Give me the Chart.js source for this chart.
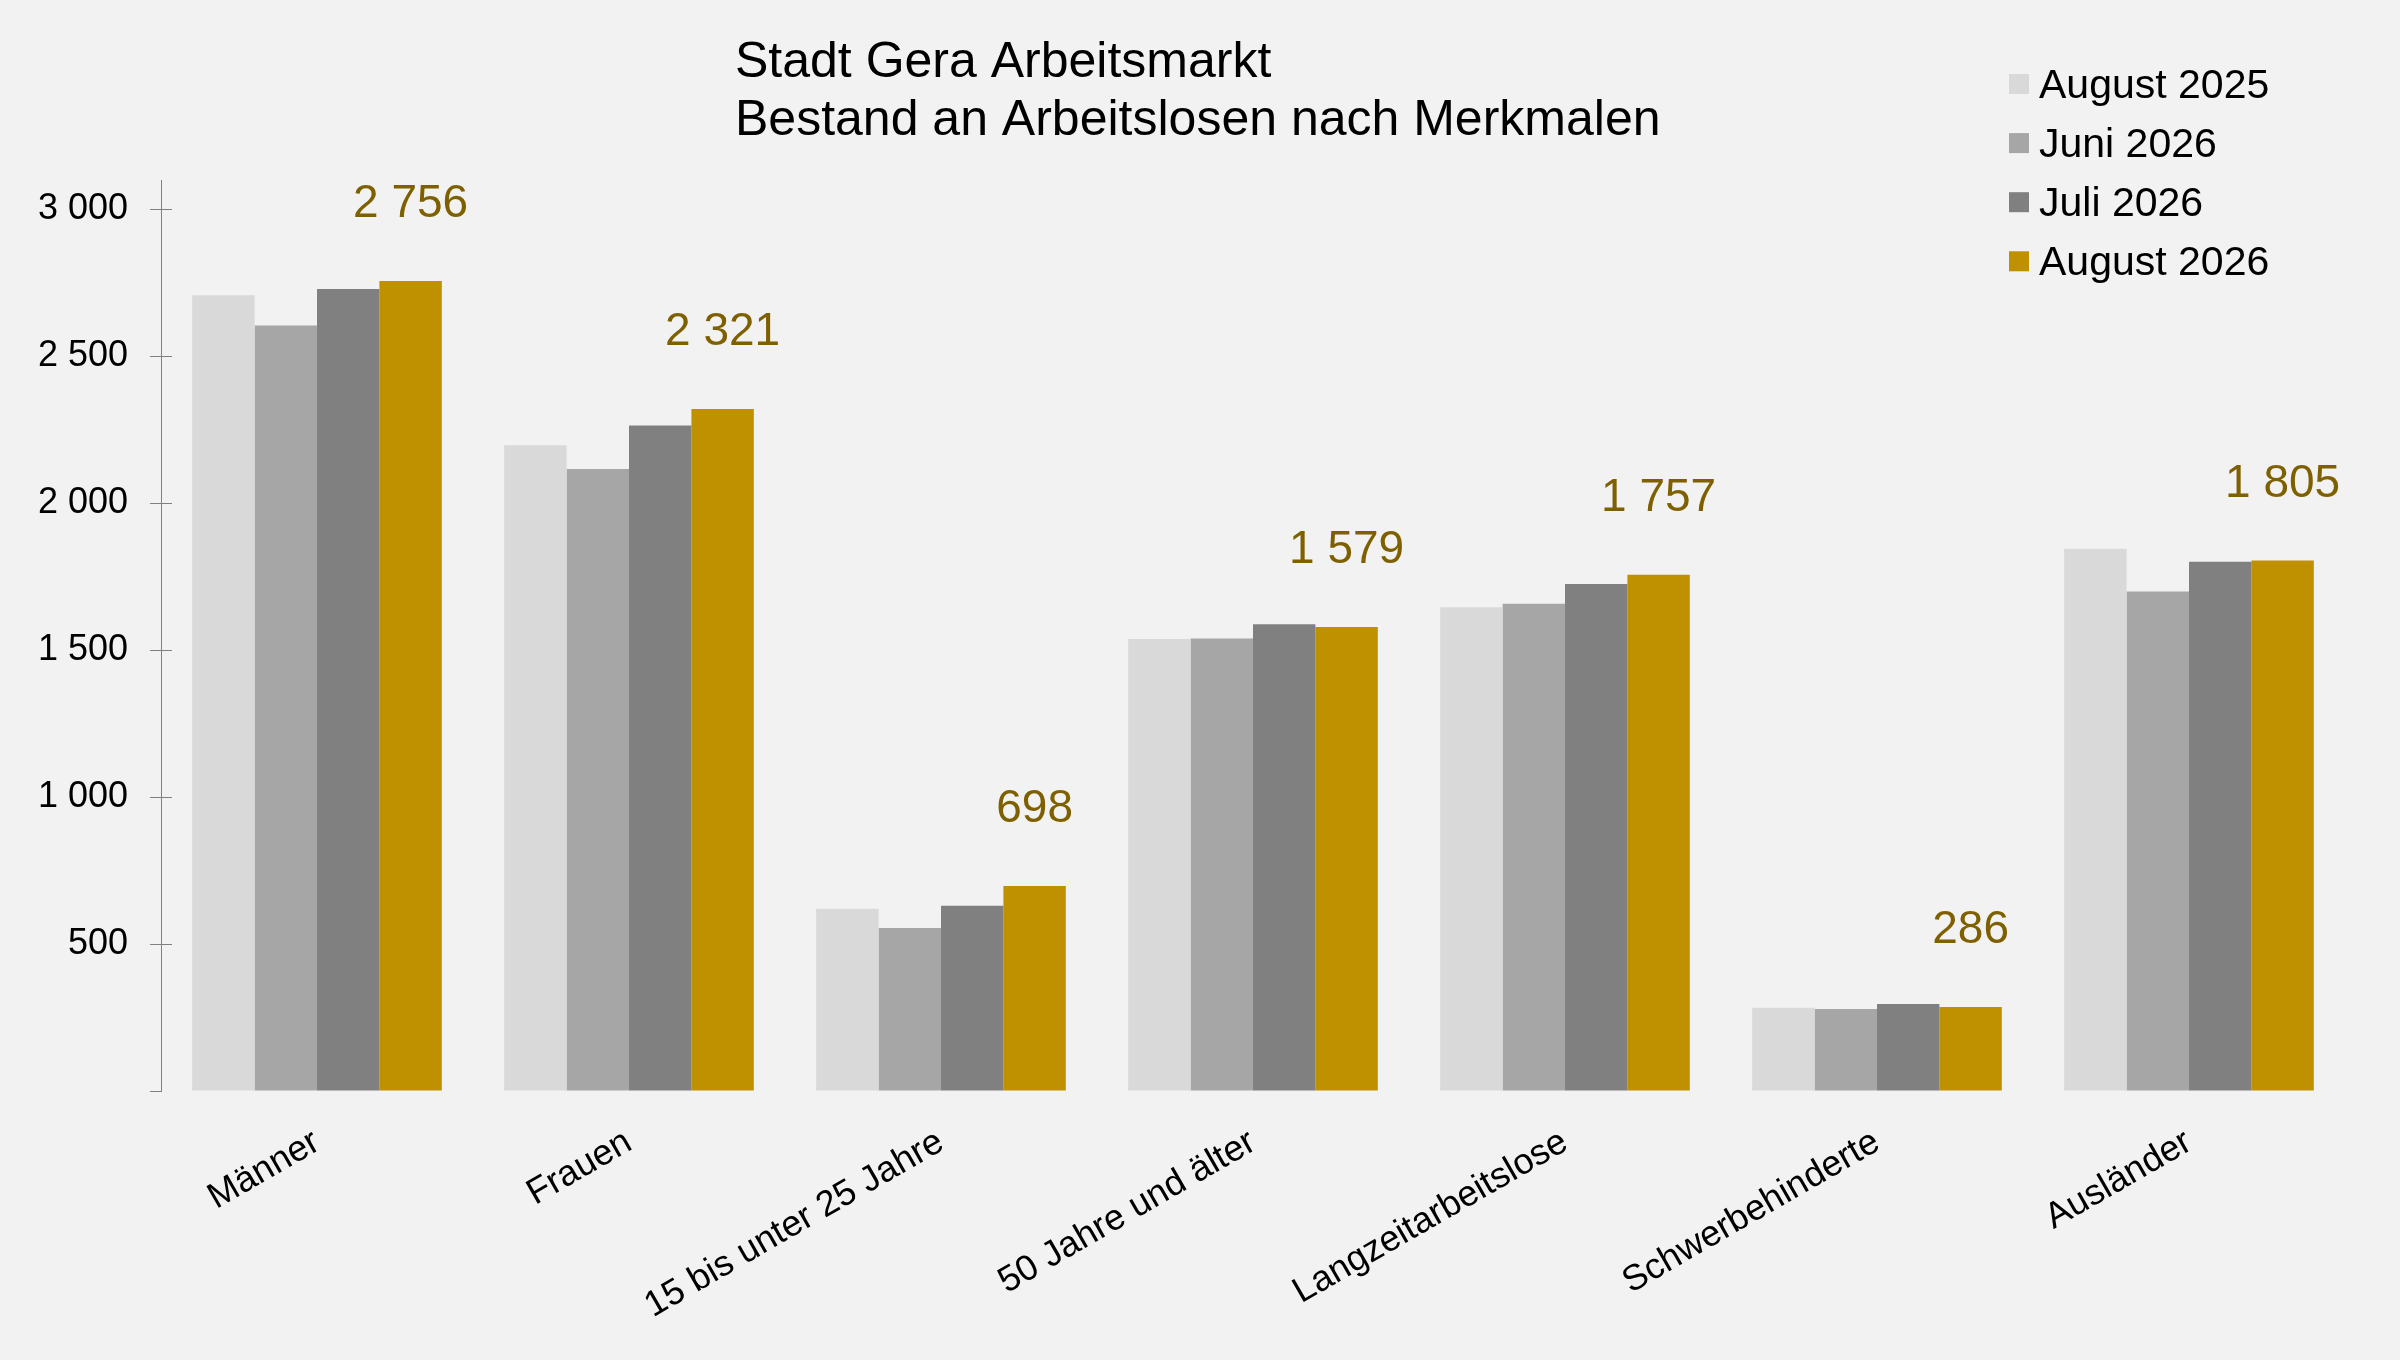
<!DOCTYPE html>
<html>
<head>
<meta charset="utf-8">
<script src="https://cdn.jsdelivr.net/npm/chart.js@4.4.1/dist/chart.umd.min.js"></script>
<style>
  html, body { margin: 0; padding: 0; background: #F2F2F2; }
  #wrap { width: 2400px; height: 1360px; }
  canvas { display: block; background: #F2F2F2; }
</style>
</head>
<body>
<div id="wrap"><canvas id="c" width="2400" height="1360"></canvas></div>
<script>
// ---- data ----
const titleLines = ['Stadt Gera Arbeitsmarkt', 'Bestand an Arbeitslosen nach Merkmalen'];
const categories = ['Männer', 'Frauen', '15 bis unter 25 Jahre', '50 Jahre und älter', 'Langzeitarbeitslose', 'Schwerbehinderte', 'Ausländer'];
const seriesLabels = ['August 2025', 'Juni 2026', 'Juli 2026', 'August 2026'];
const aug2025 = [2708, 2197, 620, 1538, 1646, 283, 1845];
const jun2026 = [2605, 2117, 555, 1540, 1658, 279, 1700];
const jul2026 = [2729, 2265, 630, 1588, 1725, 296, 1801];
const aug2026 = [2756, 2321, 698, 1579, 1757, 286, 1805];
const yTicks = [0, 500, 1000, 1500, 2000, 2500, 3000];
const yMax = 3100;

const colors = ['#D9D9D9', '#A6A6A6', '#808080', '#BF9000'];
const labelColor = '#7F6000';
const FONT = '"Liberation Sans", Arial, sans-serif';

function fmt(n) {
  return String(n).replace(/\B(?=(\d{3})+(?!\d))/g, ' ');
}

const seriesValues = [aug2025, jun2026, jul2026, aug2026];

const overlay = {
  id: 'overlay',
  afterDatasetsDraw(chart) {
    const ctx = chart.ctx;
    const meta = chart.getDatasetMeta(3);
    ctx.save();
    ctx.font = '46px ' + FONT;
    ctx.fillStyle = labelColor;
    ctx.textAlign = 'center';
    ctx.textBaseline = 'alphabetic';
    meta.data.forEach((el, i) => {
      ctx.fillText(fmt(chart.data.datasets[3].data[i]), el.x, el.y - 64);
    });
    ctx.restore();
  },
  afterDraw(chart) {
    const ctx = chart.ctx;
    const ys = chart.scales.y;
    const area = chart.chartArea;
    ctx.save();
    ctx.strokeStyle = '#808080';
    ctx.lineWidth = 1;
    ys.ticks.forEach(t => {
      if (t.value === 0) return;
      const py = Math.round(ys.getPixelForValue(t.value)) + 0.5;
      ctx.beginPath();
      ctx.moveTo(area.left, py);
      ctx.lineTo(area.left + 11, py);
      ctx.stroke();
    });
    ctx.fillStyle = '#000000';
    ctx.font = '50px ' + FONT;
    ctx.textAlign = 'left';
    ctx.textBaseline = 'alphabetic';
    ctx.fillText(titleLines[0], 735, 77);
    ctx.fillText(titleLines[1], 735, 135);
    ctx.font = '41px ' + FONT;
    chart.data.datasets.forEach((ds, i) => {
      const base = 98 + i * 59.1;
      ctx.fillStyle = ds.backgroundColor;
      ctx.fillRect(2009, base - 24, 20, 20);
      ctx.fillStyle = '#000000';
      ctx.fillText(ds.label, 2039, base);
    });
    ctx.restore();
  }
};

new Chart(document.getElementById('c'), {
  type: 'bar',
  data: {
    labels: categories,
    datasets: seriesLabels.map((lab, i) => ({
      label: lab,
      data: seriesValues[i],
      backgroundColor: colors[i],
      borderWidth: 0,
      categoryPercentage: 0.8,
      barPercentage: 1.0
    }))
  },
  options: {
    responsive: false,
    animation: false,
    devicePixelRatio: 1,
    layout: { padding: { top: 180, right: 55, left: 0, bottom: 0 } },
    plugins: {
      legend: { display: false },
      title: { display: false },
      tooltip: { enabled: false }
    },
    scales: {
      x: {
        grid: { display: false },
        border: { display: false },
        ticks: {
          autoSkip: false,
          minRotation: 30,
          maxRotation: 30,
          padding: 22,
          color: '#000000',
          font: { family: FONT, size: 36 }
        },
        afterFit(scale) { scale.height = 269; }
      },
      y: {
        min: 0,
        max: yMax,
        grid: { drawOnChartArea: false, tickLength: 11, color: '#808080', lineWidth: 1 },
        border: { display: true, color: '#808080', width: 1 },
        afterBuildTicks(scale) { scale.ticks = yTicks.map(v => ({ value: v })); },
        ticks: {
          padding: 22,
          color: '#000000',
          font: { family: FONT, size: 36 },
          callback: (v) => v === 0 ? '' : fmt(v)
        },
        afterFit(scale) { scale.width = 161; }
      }
    }
  },
  plugins: [overlay]
});
</script>
</body>
</html>
